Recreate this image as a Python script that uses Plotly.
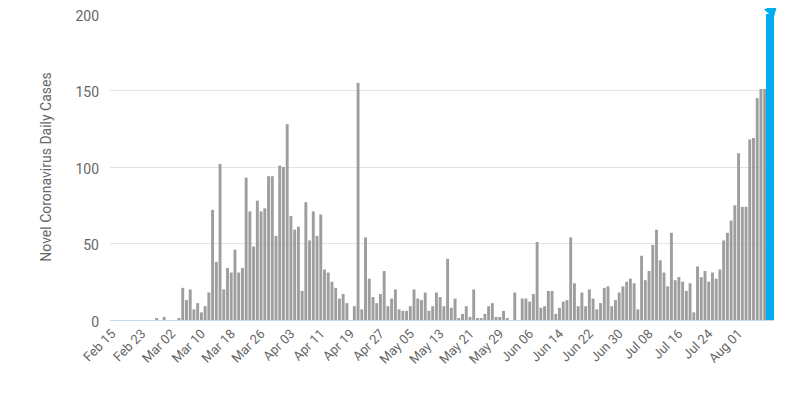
import pandas as pd
import plotly.graph_objects as go

start_date = "2020-02-15"
daily_cases = [
    0, 0, 0, 0, 0, 0, 0, 0, 0, 0, 0, 0, 1, 0, 2, 0, 0, 0, 1,
    21, 13, 20, 7, 11, 5, 9, 18, 72, 38,
    102, 20, 34, 31, 46, 31, 34, 93, 71, 48,
    78, 71, 73, 94, 94, 55, 101, 100, 128, 68,
    59, 61, 19, 77, 52, 71, 55, 69, 33, 31,
    25, 21, 14, 17, 11, 0, 9, 155, 7, 54,
    27, 15, 11, 17, 32, 9, 14, 20, 7, 6,
    6, 9, 20, 14, 13, 18, 6, 9, 18, 15,
    9, 40, 8, 14, 1, 4, 9, 2, 20, 1,
    1, 4, 9, 11, 2, 2, 6, 1, 0, 18,
    0, 14, 14, 12, 17, 51, 8, 9, 19, 19,
    4, 8, 12, 13, 54, 24, 9, 18, 9, 20,
    14, 7, 11, 21, 22, 9, 13, 18, 22, 25,
    27, 24, 7, 42, 26, 32, 49, 59, 39, 31,
    22, 57, 26, 28, 25, 19, 24, 5, 35, 28,
    32, 25, 31, 27, 33, 52, 57, 65, 75, 109,
    74, 74, 118, 119, 145, 151, 151, 200,
]
dates = pd.date_range(start_date, periods=len(daily_cases), freq="D")
tick_dates = dates[:-1][::8]
tick_labels = [d.strftime("%b %d") for d in tick_dates]
y_ticks = [0, 50, 100, 150, 200]

DAY = 86400000
gray = "#9e9e9e"
blue = "#00aeef"
font_color = "#666666"

fig = go.Figure()
fig.add_trace(go.Bar(
    x=dates[:-1], y=daily_cases[:-1],
    marker=dict(color=gray, line=dict(width=0)),
    width=[0.78 * DAY] * (len(dates) - 1),
    hoverinfo="x+y",
))
fig.add_trace(go.Bar(
    x=dates[-1:], y=daily_cases[-1:],
    marker=dict(color=blue, line=dict(width=0)),
    width=[2.15 * DAY], offset=-0.65 * DAY,
    cliponaxis=False,
))
fig.add_annotation(
    x=dates[-1], y=daily_cases[-1], text="", showarrow=True,
    xshift=9, yshift=10, ax=-7, ay=8,
    arrowhead=2, arrowsize=1.3, arrowwidth=2,
    arrowcolor=blue, standoff=0,
)

# page body adds an 8px offset; the figure is sized to fit the 800x393 window
fig.update_layout(
    width=792, height=385,
    margin=dict(l=102, r=26, t=6, b=73, autoexpand=False),
    paper_bgcolor="white", plot_bgcolor="white",
    barmode="overlay",
    showlegend=False,
    font=dict(family="Roboto, Arial, sans-serif", color=font_color, size=14),
    xaxis=dict(
        type="date", automargin=False,
        range=[dates[0] - pd.Timedelta(hours=12), dates[-1] + pd.Timedelta(hours=36)],
        tickmode="array", tickvals=tick_dates, ticktext=tick_labels,
        tickangle=-45, tickfont=dict(size=13, color=font_color),
        showgrid=False, showline=True, linecolor="#c6d7ee", linewidth=1,
        ticks="", zeroline=False, ticklabeloverflow="allow",
    ),
    yaxis=dict(
        range=[0, 200], tickvals=y_ticks, automargin=False,
        tickfont=dict(size=14, color=font_color),
        showgrid=True, gridcolor="#e3e3e3", gridwidth=1,
        zeroline=False, ticks="", ticklabelstandoff=10,
        ticklabeloverflow="allow", ticklabelshift=2,
        title=dict(text="Novel Coronavirus Daily Cases", standoff=20,
                   font=dict(size=14, color=font_color)),
    ),
)

fig.write_html("out.html")
